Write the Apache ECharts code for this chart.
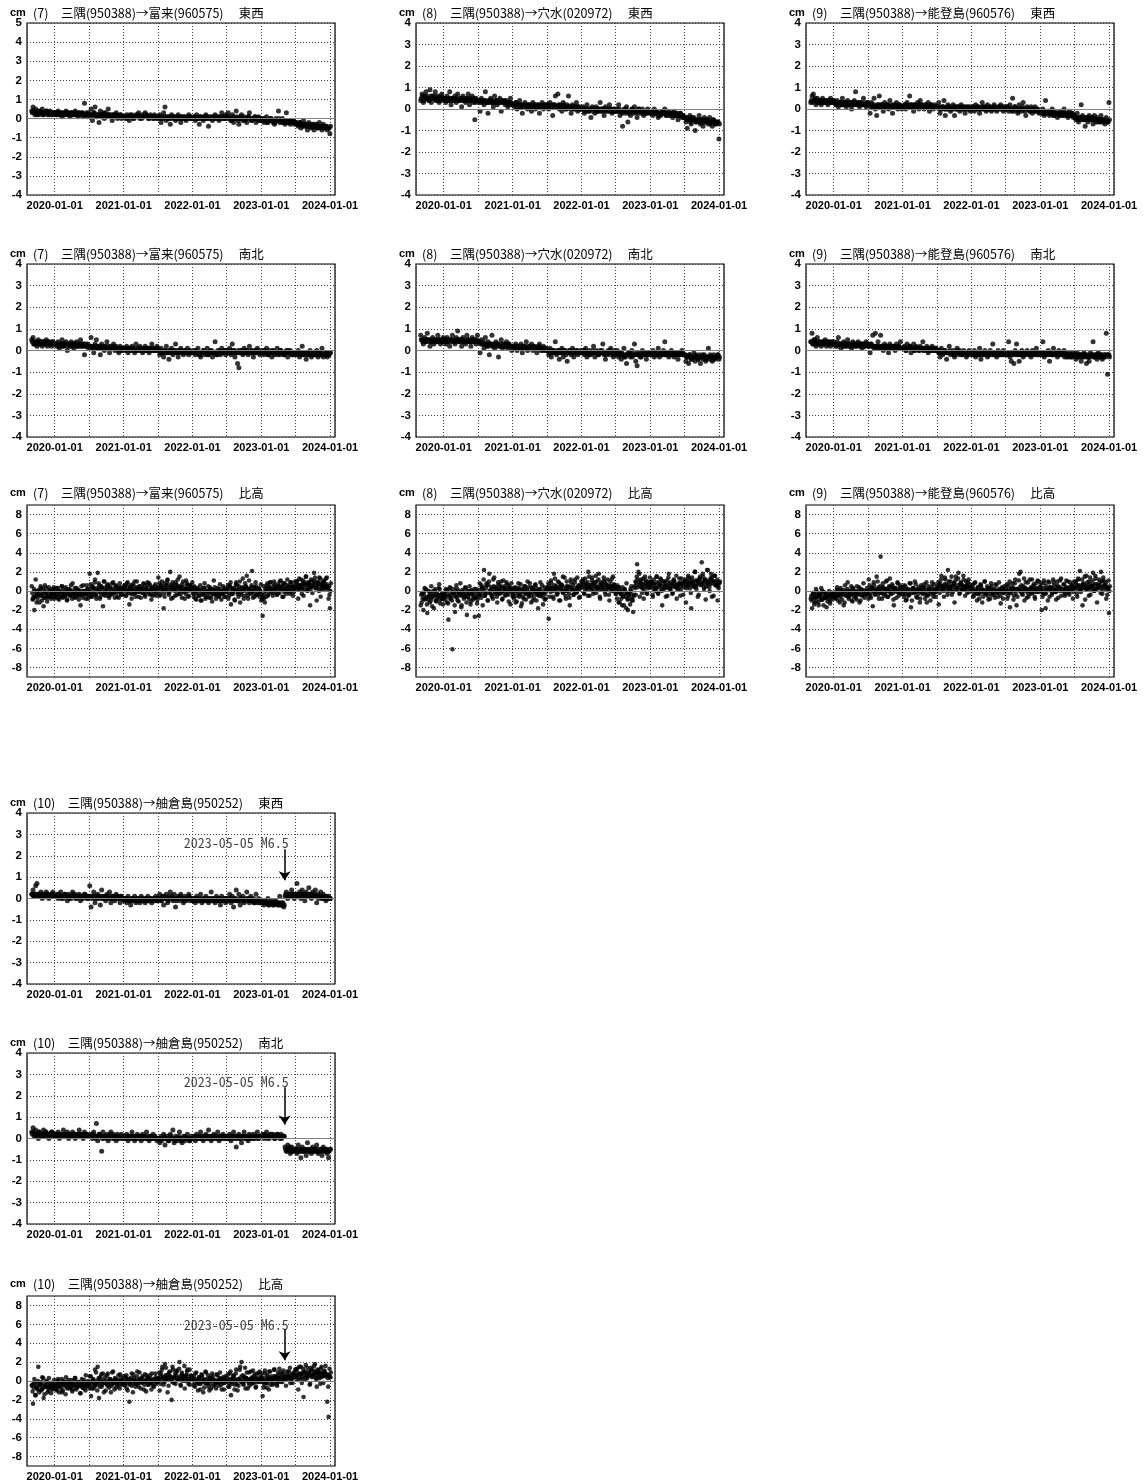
<!DOCTYPE html>
<html><head><meta charset="utf-8">
<script src="https://cdn.jsdelivr.net/npm/echarts@6/dist/echarts.min.js"></script>
<style>html,body{margin:0;padding:0;background:#fff}#c{width:1145px;height:1484px}</style>
</head><body><div id="c"></div>
<script>
// ---- time base: weekly sample sets (Sun / Wed / Fri) from 2019-09 to 2024-01 ----
const sampleStartA = [2019, 8, 1];
const sampleStartB = [2019, 8, 4];
const sampleStartC = [2019, 8, 6];
const sampleStepDays = 7;
const axisStart = [2019, 7, 7];
const axisEnd = [2024, 0, 27];
const xTickLabels = ['2020-01-01','2021-01-01','2022-01-01','2023-01-01','2024-01-01'];
const quakeDate = [2023, 4, 5];
const quakeText = '2023-05-05 M6.5';

// ---- series values in mm ----
const ew7_mm = [4,6,3,5,2,4,3,3,5,2,3,4,2,3,4,2,3,3,
3,2,4,2,3,1,3,2,4,3,2,1,3,2,3,4,2,1,3,2,3,1,8,2,1,3, 2,5,-1,3,6,1,2,-2,4,1,2,0,3,1,5,2,1,-1,2,1,3,0,1,2,0,1,
1,0,2,1,-1,1,2,0,1,2,1,3,0,1,2,1,3,2,1,0,2,1,0,2,1,0, 1,2,-2,0,3,6,-1,1,0,-3,2,1,0,-1,1,2,0,-2,1,0,1,-1,0,2,1,0,
0,1,-1,2,0,-3,1,0,-1,1,2,0,-4,1,0,-1,1,2,0,1,-1,0,3,1,0,2, 1,3,0,-1,2,-2,0,4,1,-3,0,2,-1,1,0,-2,1,3,0,-1,0,1,-2,0,1,-1,
-1,0,-2,-1,1,-2,-1,0,-1,-2,-3,0,-1,4,-2,-1,0,-2,-3,3,-2,-1,-3,-2,-1,-3, -2,-3,-4,-2,-5,-3,-1,-4,-3,-6,-2,-4,-5,-3,-6,-4,-3,-5,-2,-4,-6,-3,-5,-4,-6,-5,-8];
const ew7b_mm = [3,4,2,3,3,2,4,3,2,3,3,4,3,2,3,3,2,3,
2,3,3,2,3,2,2,3,3,2,3,2,3,2,2,3,2,3,2,2,3,2,2,3,2,2, 2,1,2,3,2,1,2,2,1,2,3,2,1,2,2,1,2,1,2,1,2,1,1,2,1,1,
1,1,0,1,2,1,1,0,1,1,2,1,1,0,1,1,2,1,0,1,1,1,0,1,1,0, 1,0,1,0,1,1,0,1,0,1,0,1,1,0,0,1,0,1,0,1,0,0,1,0,1,0,
0,1,0,0,1,0,1,0,0,1,0,1,0,0,1,0,0,1,0,0,1,0,1,0,0,1, 0,1,0,-1,0,1,0,0,-1,0,1,0,0,-1,0,0,1,0,-1,0,0,1,0,-1,0,0,
-1,-1,0,-1,-2,-1,-1,0,-1,-1,-2,-1,-1,0,-1,-2,-1,-1,-2,-1,-1,-2,-1,-1,-2,-2, -2,-3,-3,-2,-3,-4,-3,-3,-4,-3,-4,-3,-4,-4,-3,-4,-5,-4,-4,-5,-4,-4,-5,-4,-5,-5,-4];
const ew8_mm = [4,7,3,6,8,5,4,9,3,6,5,8,4,6,3,5,7,4,
5,3,6,4,8,2,5,4,6,3,7,4,5,1,6,4,3,5,7,2,4,6,3,-5,5,4, 3,-1,5,4,2,8,3,-2,4,5,3,1,6,4,2,3,5,-1,4,3,2,4,1,3,5,2,
2,1,3,0,2,4,1,-2,2,3,1,0,2,1,-1,3,2,0,1,2,-2,1,3,0,2,1, 2,0,3,1,-3,2,6,1,7,0,2,-1,3,1,0,2,6,1,-2,2,0,1,3,-1,1,0,
0,1,-2,0,2,-1,0,-4,1,0,-2,1,-1,0,3,-1,0,-3,1,0,-1,2,0,-2,-1,0, -1,0,2,-3,-1,-8,0,-2,1,-6,-1,-3,0,-2,1,-1,-4,0,-2,-1,0,-3,-1,-2,0,-1,
-2,-1,-3,0,-2,-1,-4,-2,-3,-1,-2,0,-3,-2,-1,-3,-2,-4,-1,-3,-2,-5,-3,-2,-4,-3, -4,-6,-9,-5,-3,-7,-5,-4,-10,-6,-5,-3,-7,-5,-8,-4,-6,-5,-7,-4,-6,-8,-5,-6,-7,-6,-14];
const ew8b_mm = [5,6,4,5,6,5,4,6,5,5,6,4,5,5,4,6,5,5,
5,4,5,4,5,4,5,5,4,5,4,4,5,4,5,4,4,5,4,5,4,4,5,3,4,4, 4,3,4,3,4,4,3,3,4,3,4,3,3,4,3,3,4,3,3,4,3,3,2,3,3,2,
2,2,3,2,1,2,2,1,2,2,1,2,1,2,1,1,2,1,2,1,1,2,1,1,2,1, 2,1,1,2,1,2,1,1,2,1,1,1,2,1,0,1,1,0,1,1,0,1,0,1,0,0,
0,0,-1,0,0,-1,0,0,-1,0,0,-1,0,-1,0,0,-1,0,-1,0,0,-1,0,-1,0,-1, -1,-1,0,-1,-2,-1,-1,0,-1,-2,-1,-1,0,-1,-1,-2,-1,0,-1,-1,-2,-1,-1,-2,-1,-1,
-2,-1,-2,-2,-1,-2,-3,-2,-2,-1,-2,-2,-3,-2,-2,-3,-2,-2,-3,-2,-3,-3,-2,-3,-3,-4, -4,-5,-4,-5,-6,-4,-5,-5,-6,-5,-5,-6,-5,-6,-5,-6,-6,-5,-6,-7,-6,-5,-6,-7,-6,-6,-7];
const ew9_mm = [3,6,7,4,2,5,3,4,2,5,3,4,3,2,4,5,3,4,
3,2,4,1,3,2,5,2,3,1,4,2,3,0,2,4,8,2,3,1,3,2,5,2,1,3, 2,-2,3,1,5,0,-3,2,6,1,2,-1,3,1,2,0,4,1,-2,2,1,3,0,2,1,0,
1,2,0,3,1,6,2,1,-1,2,1,3,0,4,2,1,0,2,1,3,-1,2,1,0,2,1, 1,3,-2,0,1,4,-3,0,2,1,-1,0,2,-3,1,0,1,-1,2,0,1,-2,0,1,0,-1,
0,1,-1,2,0,1,-2,0,3,1,0,-1,2,0,1,-1,0,2,1,-1,0,1,2,0,-1,1, 0,1,-1,2,0,5,-1,1,0,-2,2,0,-1,3,0,-3,1,0,-1,1,-2,0,1,-1,0,-2,
-1,-2,0,-3,4,-2,-1,-3,-2,0,-3,-1,-2,-4,-2,-1,-3,-2,0,-3,-2,-4,-1,-3,-2,-4, -3,-5,-2,-6,-4,2,-3,-5,-8,-4,-6,-3,-5,-4,-7,-3,-5,-4,-6,-5,-3,-6,-5,-7,-4,-6,3];
const ew9b_mm = [4,3,4,5,3,4,3,4,3,4,3,3,4,3,4,3,3,4,
3,2,3,2,3,3,2,3,2,3,2,2,3,2,3,2,3,2,2,3,2,2,3,2,2,3, 2,1,2,1,2,1,1,2,1,2,1,1,2,1,2,1,1,2,1,1,2,1,1,2,1,1,
1,2,1,2,1,1,2,1,2,1,1,2,1,1,2,1,1,2,1,1,1,2,1,1,1,1, 1,0,1,0,1,0,0,1,0,1,0,0,1,0,0,1,0,0,1,0,0,1,0,0,1,0,
0,1,0,0,1,0,0,1,0,0,1,0,0,1,0,0,1,0,0,0,1,0,0,1,0,0, 0,1,0,0,-1,0,1,0,0,-1,0,0,1,0,-1,0,0,0,-1,0,0,-1,0,0,-1,-1,
-1,-2,-1,-2,-2,-1,-2,-2,-1,-2,-3,-2,-2,-2,-3,-2,-2,-3,-2,-2,-3,-2,-3,-3,-2,-3, -4,-4,-5,-4,-5,-4,-5,-4,-5,-5,-4,-5,-5,-4,-5,-5,-6,-5,-5,-6,-5,-5,-6,-5,-6,-6,-5];
const ns7_mm = [5,6,3,4,2,5,3,4,2,4,3,5,2,4,3,2,4,3,
3,2,4,1,3,5,2,3,4,0,3,2,4,3,1,3,4,2,3,5,2,3,-2,3,2,1, 2,6,1,-1,3,5,1,2,-2,3,1,0,2,4,1,-1,2,1,3,0,2,1,-1,2,0,1,
1,0,2,-1,1,0,2,1,-1,3,0,1,2,0,-1,1,2,0,1,-1,1,3,0,1,0,2, 0,-2,1,-1,-3,0,2,-1,-4,0,1,-2,0,3,-1,-3,0,1,-1,-2,0,-1,1,-2,0,-1,
-1,0,-2,-1,1,-2,-3,-1,0,-2,-1,1,-2,0,-1,-3,-1,4,-2,0,-1,-2,1,-1,0,-2, 0,-1,1,-2,3,0,-3,-1,-6,-8,-1,0,-2,1,-1,0,-2,2,-1,0,-3,-1,0,1,-1,-2,
-1,0,-2,-1,1,-2,0,-1,-3,0,-2,-1,1,-1,-2,0,-1,-2,-1,0,-3,-1,0,-2,-1,-2, -1,-2,0,-3,-1,2,-2,-1,-4,-2,-1,0,-3,-2,-1,-2,0,-3,-1,-2,1,-3,-2,-1,-3,-2,-1];
const ns7b_mm = [4,3,4,3,4,3,3,4,3,4,3,3,4,3,3,4,3,3,
3,3,2,3,3,2,3,3,2,3,3,2,3,2,3,3,2,3,2,3,2,3,2,2,3,2, 2,2,1,2,1,2,1,1,2,1,1,2,1,1,2,1,1,1,2,1,1,0,1,1,0,1,
1,0,1,0,1,1,0,1,0,0,1,0,1,0,0,1,0,0,1,0,0,1,0,0,0,1, 0,-1,0,-1,0,-1,-1,0,-1,0,-1,-1,0,-1,0,-1,-1,0,-1,-1,0,-1,-1,0,-1,-1,
-1,-1,0,-1,-1,-2,-1,-1,0,-1,-1,-2,-1,-1,0,-1,-1,-1,-2,-1,0,-1,-1,-1,0,-1, 0,-1,-1,0,-1,0,-1,-1,0,-1,0,-1,-1,0,-1,0,-1,-1,0,-1,-1,0,-1,-1,0,-1,
-1,-1,0,-1,-1,-2,-1,-1,0,-1,-1,-1,-2,-1,0,-1,-1,-2,-1,-1,0,-1,-1,-2,-1,-1, -1,-2,-1,-1,-2,-1,-2,-1,-1,-2,-1,-2,-2,-1,-2,-1,-2,-2,-1,-2,-1,-2,-2,-1,-2,-2,-1];
const ns8_mm = [7,5,3,6,4,8,5,2,4,6,3,5,4,7,5,3,4,6,
5,3,6,4,2,5,7,4,3,6,9,4,5,2,6,4,3,7,5,4,2,6,4,5,3,7, 4,-1,5,3,1,6,2,4,-2,3,7,2,1,4,3,-3,2,5,1,3,2,4,1,3,2,0,
2,1,3,0,2,1,3,-1,2,1,4,0,2,1,3,0,2,1,-1,2,3,0,1,2,0,1, 0,-2,1,-3,0,-1,4,-2,0,-4,-1,1,-3,0,-2,-5,-1,0,-2,1,-3,-1,0,-2,-1,0,
-1,0,-2,1,-3,-1,0,-2,-1,2,-3,0,-1,-2,0,-1,3,-2,-4,-1,0,-2,1,-1,-3,0, -2,0,-3,-1,-4,-2,1,-3,-6,-2,-1,-3,0,-2,3,-5,-7,-2,-1,-3,0,-2,-1,-4,-2,-1,
-1,-2,0,-3,-1,-2,1,-3,-1,-2,0,4,-2,-1,-3,-2,0,-1,-3,-2,-1,-4,-2,-1,0,-2, -2,-5,-3,-6,-2,-4,-3,-1,-5,-3,-4,-2,-6,-3,-4,-2,-5,-3,1,-4,-3,-5,-2,-4,-3,-2,-4];
const ns8b_mm = [5,4,5,4,5,5,4,5,4,5,4,5,5,4,5,4,5,4,
4,5,4,5,5,4,5,4,5,4,5,5,4,5,4,4,5,4,5,4,4,5,4,4,5,4, 4,3,3,4,3,3,3,2,3,3,2,3,3,2,3,2,3,2,2,3,2,2,3,2,2,2,
2,1,2,1,2,1,1,2,1,2,1,1,2,1,1,2,1,1,1,2,1,1,0,1,1,0, 0,0,-1,0,-1,0,-1,-1,0,-1,0,-1,-1,0,-1,-1,0,-1,-1,0,-1,-1,0,-1,-1,-1,
-1,-1,0,-1,-1,-2,-1,-1,0,-1,-1,-1,-2,-1,-1,0,-1,-1,-2,-1,-1,0,-1,-1,-2,-1, -2,-1,-2,-2,-1,-2,-3,-2,-2,-1,-2,-2,-3,-2,-2,-1,-2,-2,-3,-2,-2,-1,-2,-2,-2,-1,
-1,-2,-1,-2,-1,-2,-2,-1,-2,-1,-2,-2,-1,-2,-1,-2,-2,-1,-2,-2,-1,-2,-2,-1,-2,-2, -2,-3,-3,-2,-3,-4,-3,-3,-2,-3,-4,-3,-3,-2,-3,-3,-4,-3,-3,-2,-3,-4,-3,-3,-3,-2,-3];
const ns9_mm = [4,8,3,5,2,6,3,4,2,4,3,5,2,4,3,2,4,3,
3,2,4,6,3,1,3,4,2,3,5,2,3,1,4,3,2,3,4,2,3,1,3,2,4,3, 2,-1,3,7,1,8,2,4,1,7,2,0,3,1,2,-1,3,2,1,2,0,3,1,2,4,1,
1,2,0,3,1,2,-1,1,3,0,2,1,0,2,1,4,0,1,2,-1,1,0,2,1,0,1, 0,-1,-3,1,-2,-1,0,-4,-1,2,-2,-1,0,-3,-1,1,-2,0,-1,-2,0,-1,-3,-1,0,-2,
-1,-2,0,-3,-1,-2,1,-4,-1,-2,0,-1,-3,-2,0,-1,3,-2,-1,-3,0,-2,-1,-2,0,-1, -2,-1,4,-3,-5,-1,-6,0,3,-2,-5,-1,0,-3,-2,-1,0,-2,-1,-3,0,-2,-1,1,-2,-1,
-2,-1,4,-3,-1,-2,0,-5,-1,-2,1,-2,-1,-3,0,-2,-1,-2,0,-1,-3,-2,-1,-2,-3,-1, -2,-4,-1,-3,-2,-5,-3,-1,-2,-6,-3,-5,-1,-2,4,-3,-2,-4,-1,-3,-2,-4,-3,-2,8,-11,-2];
const ns9b_mm = [4,3,5,3,4,3,4,3,3,4,3,4,3,3,4,3,3,4,
3,3,2,3,3,3,2,3,3,2,3,3,3,2,3,3,2,3,3,2,3,3,2,3,3,2, 2,3,2,2,2,1,2,2,1,2,2,1,2,2,1,2,1,2,1,2,1,1,2,1,1,1,
1,1,0,1,1,2,1,1,0,1,1,1,0,1,1,0,1,1,0,1,0,1,0,0,1,0, 0,-1,0,-1,-1,0,-1,-1,-1,0,-1,-1,-2,-1,-1,0,-1,-1,-2,-1,-1,-1,-2,-1,-1,-1,
-1,-2,-1,-2,-1,-2,-2,-1,-2,-1,-2,-2,-1,-2,-1,-2,-1,-2,-2,-1,-2,-1,-2,-1,-2,-1, -2,-1,-2,-1,-2,-2,-1,-2,-1,-2,-1,-2,-2,-1,-2,-1,-1,-2,-1,-2,-1,-1,-2,-1,-2,-1,
-1,-2,-1,-2,-1,-1,-2,-1,-2,-2,-1,-2,-1,-2,-2,-1,-2,-2,-3,-2,-2,-3,-2,-3,-2,-2, -2,-3,-2,-3,-2,-2,-3,-2,-3,-2,-3,-3,-2,-2,-3,-2,-3,-2,-2,-3,-2,-3,-2,-3,-2,-2,-3];
const ud7_mm = [5,-8,-20,12,-4,0,-12,3,-5,-16,6,-2,-7,4,-6,-3,2,-8,
-4,3,-8,0,-6,5,-2,-6,2,-9,-3,1,-5,8,-2,-7,3,-4,0,-15,-3,6,-1,-8,2,-5, 18,-6,5,-3,12,-8,19,2,-6,4,-16,10,-1,6,-5,3,-4,8,-2,-7,5,1,-7,4,-3,2,
3,-5,8,0,-14,6,2,-3,10,-1,4,-6,5,1,-2,7,-6,3,0,8,-4,2,-5,5,1,-2, 14,-5,6,3,-18,8,1,12,-4,20,6,-7,2,9,-4,4,15,-3,7,0,-8,11,2,-5,6,3,
-2,5,-8,0,3,-5,-10,2,-3,8,-6,0,-2,4,-7,1,11,-4,-1,3,-6,0,-3,5,-6,1, 2,-8,6,-14,3,0,-10,9,-3,5,-12,1,13,-5,4,16,-8,2,-3,21,0,-6,5,-4,3,-2,
-10,-26,-8,2,6,-5,4,9,0,-2,7,3,-4,5,10,1,-6,8,2,-3,6,0,9,4,-5,3, 6,10,-8,4,12,2,-5,9,15,0,7,-15,5,11,19,3,-10,8,14,-6,6,10,2,13,5,-8,-18];
const ud7b_mm = [-2,-6,0,-4,-8,1,-5,-3,2,-7,-1,-4,-6,0,-3,-5,1,-2,
-1,-4,0,-3,-6,1,-2,-5,-1,-3,2,-4,0,-2,-6,-1,-3,1,-5,-2,0,-4,-1,-3,2,-2, 2,-3,4,0,-5,3,-1,6,-2,1,-4,3,0,-2,5,-1,2,-3,1,4,-2,0,3,-1,-4,2,
2,-1,4,0,3,-3,1,5,-2,2,0,4,-1,1,3,-2,2,6,0,-1,3,1,-3,2,0,4, 3,0,5,1,-2,4,2,7,-1,3,1,6,0,2,5,-3,3,1,4,-1,2,6,0,3,1,2,
0,-3,2,-2,-5,1,-1,-4,3,-2,0,-6,-1,2,-3,0,-2,1,-4,-1,2,-3,0,-2,1,-1, 2,-2,4,0,-3,3,1,6,-1,2,-4,3,0,1,5,-2,2,-1,4,0,-3,3,1,-1,2,0,
-4,-6,-2,0,3,1,4,-1,2,5,0,3,-2,2,4,1,6,-1,3,0,5,2,-1,4,1,3, 4,7,2,6,3,8,5,1,7,4,9,2,6,5,10,3,7,4,8,2,6,9,4,7,3,5,0];
const ud7c_mm = [-9,2,-6,-12,0,-4,5,-10,-2,-7,3,-11,-5,1,-8,-3,4,-6,
-6,3,-9,-1,5,-7,-3,4,-10,0,-5,6,-8,-2,3,-6,1,-9,-4,5,-7,0,-3,6,-8,-1, 7,-6,3,9,-4,1,8,-8,5,-2,10,-5,2,7,-7,4,-3,9,-1,6,-6,3,8,-4,1,5,
6,-5,9,-2,4,-8,7,1,-6,10,-1,5,-7,3,8,-4,2,9,-3,6,-9,4,0,7,-5,3, 8,-4,10,1,-6,6,11,-2,4,-8,9,3,-5,7,12,0,5,-7,10,2,-3,8,-6,6,1,9,
-6,4,-9,1,-5,6,-10,-2,3,-8,0,5,-7,2,-11,-3,4,-8,1,-5,7,-9,-1,3,-6,0, 6,-5,9,-3,2,-9,7,1,-6,10,-2,4,-8,8,3,-5,11,-1,6,-7,4,9,-4,2,-6,7,
-8,5,-12,-6,8,-3,9,1,-5,10,3,-4,7,-2,11,5,-6,8,0,12,4,-3,9,6,-1,10, 10,2,13,6,-3,11,7,15,1,9,4,12,-2,8,14,5,10,0,13,7,3,11,6,14,2,-4,8];
const ud8_mm = [-15,-2,-20,3,-8,-23,0,-12,5,-6,-18,2,-10,-4,7,-9,-3,-14,
-5,2,-12,-30,4,-8,-61,-2,-22,6,-10,-3,8,-15,-1,-6,3,-25,-4,5,-11,0,-7,-27,2,-9, -26,-4,6,-15,22,-2,8,-10,18,1,-6,12,-3,4,-12,7,0,10,-8,3,-5,9,-1,5,-14,2,
-5,3,-12,0,8,-4,-16,2,-8,5,-2,10,-6,-1,4,-10,0,7,-3,-18,2,-5,6,-2,-9,1, 4,-29,1,8,-6,18,2,-4,10,-10,3,6,-2,14,-8,0,5,-15,9,1,-4,12,-1,3,-7,6,
5,12,-3,8,2,20,-5,6,14,0,9,-2,4,18,-8,7,1,11,-4,6,3,-10,5,13,0,4, -3,6,-12,0,-8,4,-15,-2,8,-20,-5,2,-10,-22,5,-4,28,20,-6,12,3,-8,15,-2,9,6,
4,10,-6,8,0,15,-3,6,12,-15,2,9,5,-5,18,3,7,-2,11,4,-8,6,13,1,8,-4, 10,-12,6,14,3,-18,9,5,20,2,-6,12,7,30,15,4,-9,22,8,0,18,11,-5,16,6,-10,9];
const ud8b_mm = [-4,-8,-2,-6,1,-9,-5,-3,-7,0,-5,-10,-3,-6,2,-4,-8,-5,
-3,-6,0,-4,-8,-1,-5,2,-3,-7,0,-2,-5,1,-4,-6,-2,0,-8,-3,1,-4,-2,-6,0,-3, 1,-3,4,0,-5,3,-2,6,0,-4,2,5,-1,3,-3,1,4,-2,0,5,-1,2,-4,3,0,-2,
-2,1,-5,-1,3,-4,0,-6,2,-3,-1,4,-2,-5,1,-3,0,3,-4,-1,2,-2,-6,0,-3,1, 2,5,-1,3,0,6,2,-2,4,1,7,-1,3,0,5,2,-3,4,1,6,0,3,-1,5,2,4,
4,7,2,5,9,3,6,1,8,4,5,10,3,6,2,7,4,9,1,5,3,6,0,4,7,3, 2,-1,4,-3,0,-5,1,-6,-2,-8,-3,0,-7,-4,3,8,12,6,10,4,7,2,9,5,3,6,
5,8,2,6,3,9,4,7,1,5,10,3,6,4,8,2,7,5,9,4,6,3,8,5,7,4, 7,10,5,9,12,6,8,4,11,7,9,13,6,10,8,12,5,9,11,7,14,8,10,6,9,5,8];
const ud8c_mm = [-12,-3,-9,2,-14,-6,-1,-10,-16,-4,0,-11,-7,3,-13,-5,-8,-2,
-9,1,-13,-5,3,-10,-2,-15,-6,2,-11,-4,-17,-1,-8,4,-12,-6,0,-14,-3,-9,2,-7,-13,-5, 8,-7,3,12,-5,6,-10,10,-2,4,-8,14,0,-6,9,-3,5,-9,11,2,-4,7,-11,3,8,-6,
-8,4,-11,2,-6,7,-13,-1,5,-9,1,-4,8,-12,3,-7,6,-10,0,-5,9,-3,-14,4,-8,2, 8,-6,11,3,-8,13,5,-3,9,-10,6,15,0,-5,10,4,-7,12,2,-4,9,-2,14,6,-6,10,
10,-2,13,6,-5,15,3,11,-3,8,16,1,12,-6,9,4,14,-1,7,12,-4,10,2,15,6,-3, -8,4,-12,-3,-15,-6,2,-18,-9,-2,-14,5,-10,-5,10,15,4,18,8,-2,13,6,11,-3,9,14,
9,-4,12,3,15,-2,8,13,0,10,5,-6,11,14,2,9,-3,12,6,16,1,8,-5,13,7,10, 12,3,16,8,-2,14,10,20,5,11,-4,15,7,18,2,12,9,22,4,13,-6,10,16,6,12,3,10];
const ud9_mm = [-8,-18,-3,-12,2,-6,-15,-4,3,-9,-1,-7,-17,-5,0,-10,-3,-6,
-2,-8,4,-5,-12,1,-3,-15,6,-4,9,-6,0,-10,3,-2,-7,5,-3,-12,2,-5,8,-1,-4,0, 12,-5,3,-16,6,-1,15,-4,2,36,-8,4,-2,10,-6,0,13,-3,5,-15,1,-7,8,-2,4,-1,
-3,6,-10,1,-5,8,-17,2,-2,10,-6,0,4,-8,3,-1,7,-4,-12,5,0,-3,9,-6,2,-1, 5,-14,8,16,2,-6,12,4,22,0,10,-4,6,-12,15,3,19,-2,8,1,12,-5,5,9,-1,4,
2,-6,8,0,-10,4,-3,6,-12,1,10,-2,-5,3,-8,5,0,-4,7,-1,-6,2,-13,4,-2,0, 3,-8,6,-17,2,8,-5,12,-15,1,18,20,-3,5,-10,9,0,-6,12,4,-2,7,-8,3,11,-1,
5,-20,-3,8,-18,2,10,-6,4,-2,9,0,-9,6,3,11,-5,1,7,-3,4,10,-4,2,6,-1, 4,8,-6,12,21,2,-15,6,-9,16,3,10,-4,7,19,0,13,-12,5,9,20,-3,11,6,-8,3,-23];
const ud9b_mm = [-5,-8,-3,-7,-10,-4,-6,-2,-9,-5,-7,-3,-6,-8,-4,-6,-2,-5,
-2,-5,0,-3,-6,-1,-4,1,-3,-5,0,-2,-4,2,-3,-1,-5,0,-2,-4,1,-3,-1,-2,0,-3, 1,-2,3,0,-3,2,-1,4,0,-2,3,1,-3,2,0,5,-1,2,-2,1,3,-1,0,2,-3,1,
0,-3,2,-1,-4,1,-2,3,0,-1,2,-3,1,0,-2,3,-1,1,-4,0,2,-1,1,-2,0,2, 3,6,1,5,2,7,4,0,6,3,5,1,8,4,2,6,3,7,1,4,5,2,6,3,4,1,
1,-2,2,0,-3,1,-1,3,0,-2,1,-1,2,0,-3,1,-1,2,0,-2,1,0,-1,2,-2,0, 0,-2,2,-1,1,3,0,-3,2,1,4,-1,2,0,3,1,-2,2,0,3,1,-1,2,0,1,2,
2,-1,3,0,-2,2,1,4,0,3,1,-1,2,4,0,3,1,2,-1,3,2,0,4,1,2,3, 3,6,2,5,1,4,7,3,5,2,6,4,1,5,3,7,2,4,6,3,5,1,4,6,2,3,0];
const ud9c_mm = [-10,-2,-14,-6,-1,-12,-4,-9,0,-15,-7,-3,-11,-5,-13,-2,-8,-6,
-7,1,-10,-4,3,-9,-1,-12,-5,2,-8,-3,5,-11,-6,0,-9,-2,4,-10,-4,1,-7,-3,3,-8, 6,-7,3,9,-4,1,10,-8,5,-2,8,-5,2,11,-6,4,-3,7,-9,3,0,9,-5,6,-2,4,
-6,5,-9,2,-4,8,-10,3,-1,7,-7,1,-12,6,-3,4,-8,9,-5,2,-10,5,-2,7,-6,1, 9,-2,12,5,0,14,7,-4,10,3,15,-1,8,11,2,13,-3,9,6,16,1,10,-2,12,7,4,
6,-5,9,-2,4,-8,7,1,-6,10,-3,5,-9,3,8,-4,1,-7,6,-1,9,-5,2,-8,5,0, 7,-5,10,-2,4,-9,8,2,-6,11,0,6,-4,13,3,-7,9,1,-3,12,5,-6,8,-1,10,4,
8,-6,11,-3,5,-10,9,2,-4,12,6,-1,10,-7,4,13,0,7,-5,11,3,-2,9,6,-8,10, 10,-3,13,6,-1,12,8,15,2,9,-5,14,5,11,0,16,7,3,12,-2,10,14,6,9,-4,11,5];
const ew10_mm = [2,4,1,6,7,2,1,3,0,2,1,3,2,0,1,2,3,1,
1,2,0,1,3,1,0,2,1,-1,2,1,0,3,1,2,0,1,2,-1,1,0,2,1,0,1, 6,-4,1,3,-2,0,2,1,-3,4,0,1,-1,2,0,3,-2,1,0,-1,2,1,0,-2,1,0,
-1,0,-2,1,-1,-3,0,-1,1,-2,0,-1,-2,1,0,-1,-2,0,1,-1,0,-2,-1,0,1,-1, 0,2,-1,1,-3,0,2,-2,1,3,0,-1,2,-4,0,1,-1,2,0,-2,1,-1,0,2,-1,0,
-1,0,-2,1,-1,0,2,-2,-1,0,1,-1,-2,0,3,-1,0,-2,1,-1,0,-3,1,-1,0,-2, 0,-1,2,-2,1,-4,0,4,-1,2,-3,0,1,-2,-1,3,0,-2,1,-1,0,-2,2,-1,0,-2,
-1,-2,-3,-1,-2,0,-3,-2,-1,-3,-2,-1,-2,-3,1,-2,-3,-4,1,3,0,2,1,4,2,0, 2,7,1,3,0,4,2,-1,3,1,5,2,0,3,1,4,-2,2,1,3,0,2,1,-1,0,1,0];
const ew10b_mm = [2,1,2,2,1,2,1,2,1,1,2,1,2,1,1,2,1,1,
1,1,2,1,0,1,1,2,1,1,0,1,1,2,1,0,1,1,1,0,1,1,2,1,0,1, 1,0,1,0,1,1,0,1,0,1,0,0,1,0,1,0,0,1,0,0,1,0,0,1,0,0,
0,-1,0,-1,-1,0,-1,0,-1,-1,0,-1,0,-1,-1,0,-1,0,-1,-1,0,-1,0,-1,0,-1, 0,0,-1,0,1,0,0,-1,0,0,1,0,0,-1,0,0,1,0,0,-1,0,0,0,1,0,0,
-1,0,-1,0,-1,-1,0,-1,0,-1,-1,0,-1,0,-1,0,-1,-1,0,-1,0,-1,-1,0,-1,0, -1,0,-1,0,-1,-1,0,-1,-1,0,-1,0,-1,-1,0,-1,-1,0,-1,-1,-2,-1,-1,-2,-1,-2,
-2,-2,-1,-2,-2,-3,-2,-2,-2,-3,-2,-2,-3,-2,-3,-3,-2,-3,2,1,2,1,2,1,2,1, 2,1,2,1,2,1,2,1,2,1,1,2,1,1,2,1,1,0,1,1,0,1,0,1,0,0,0];
const ns10_mm = [3,5,1,4,2,0,3,1,2,4,1,3,2,0,2,3,1,2,
2,1,3,0,2,1,4,2,1,3,0,2,1,3,2,0,1,2,4,1,2,0,3,1,2,1, 1,2,0,3,1,7,-1,2,1,-6,3,0,1,2,-1,1,3,0,2,1,-1,2,0,1,2,0,
1,0,2,-1,1,0,3,1,-1,0,2,1,0,-1,2,0,1,3,0,-1,1,0,2,1,0,-1, 0,-2,1,0,2,-3,0,1,-1,2,0,4,-2,1,0,-1,3,0,-2,1,-1,0,2,0,-1,1,
0,1,-1,2,0,1,3,0,-1,1,2,0,4,1,-1,0,2,1,0,3,-1,1,0,2,1,0, 1,0,2,-1,1,3,0,-4,1,2,0,-2,1,3,0,1,-1,2,0,1,2,0,1,3,0,1,
1,2,0,1,3,1,0,2,1,2,0,1,2,1,0,2,1,1,-4,-6,-3,-5,-7,-4,-6,-5, -5,-7,-3,-6,-9,-4,-6,-5,-8,-2,-6,-5,-7,-4,-6,-5,-3,-7,-6,-5,-8,-4,-6,-5,-7,-9,-5];
const ns10b_mm = [2,3,2,1,2,3,2,2,1,2,3,2,1,2,2,3,2,1,
2,1,2,2,1,2,1,2,2,1,2,1,1,2,2,1,2,1,2,1,1,2,1,2,1,1, 1,1,2,1,0,1,1,2,1,0,1,1,1,0,1,2,1,1,0,1,1,0,1,1,0,1,
1,0,1,0,1,1,0,1,0,0,1,0,1,1,0,1,0,0,1,0,1,0,0,1,0,0, 0,0,-1,0,1,0,0,-1,0,1,0,0,-1,0,0,1,0,-1,0,0,1,0,0,-1,0,0,
0,1,0,1,0,0,1,0,1,1,0,1,0,0,1,0,1,0,1,0,0,1,0,1,0,1, 1,0,1,0,1,1,0,1,0,1,0,1,1,0,1,0,1,1,0,1,0,1,1,0,1,1,
1,1,2,1,0,1,1,2,1,1,0,1,2,1,1,0,1,1,-5,-6,-5,-4,-6,-5,-6,-5, -5,-6,-5,-6,-5,-6,-6,-5,-6,-5,-6,-6,-5,-6,-5,-6,-5,-6,-6,-5,-6,-5,-6,-5,-6,-6,-5];
const ud10_mm = [-5,-24,2,-15,-8,15,-3,-10,4,-18,-6,0,-12,3,-7,-2,-9,1,
-4,-10,2,-6,-3,-12,0,-5,4,-8,-2,-6,1,-9,-4,3,-7,-1,-5,-13,2,-3,-8,6,-2,-5, 5,-16,0,-8,12,-3,15,-18,4,-6,8,-1,-10,6,-4,2,-12,9,-2,3,-7,1,-5,7,0,-3,
-2,4,-8,1,-22,3,-5,7,0,-3,10,-6,2,-1,5,-9,0,6,-4,3,-2,8,-5,1,4,-1, 3,-10,8,15,-4,18,2,-12,9,5,-20,12,4,-3,10,1,20,-5,7,2,-8,6,12,0,-4,5,
2,-5,8,0,-10,4,-3,6,-12,1,9,-2,-6,3,-8,5,0,-4,7,-1,-5,2,-9,4,-2,0, 3,-6,8,-15,2,6,-4,12,-10,1,15,20,-3,5,-8,9,0,-5,10,4,-2,7,-6,3,8,-1,
4,-16,-3,8,-7,2,10,-4,5,-2,12,3,-5,6,2,9,-1,4,7,3,5,10,-2,6,8,4, 6,13,-9,8,15,2,-17,10,4,14,7,-3,12,5,16,9,-6,11,3,13,8,-2,10,6,-22,-38,4];
const ud10b_mm = [-4,-7,-2,-6,-9,-3,-5,-1,-8,-4,-6,-2,-7,-5,-3,-8,-4,-6,
-3,-6,-2,-5,-8,-3,-4,-1,-6,-4,-2,-7,-3,-5,0,-4,-6,-2,-5,-3,-7,-1,-4,-5,-2,-4, -1,-4,1,-2,-5,0,-3,2,-1,-4,1,-2,0,-5,-1,2,-3,0,-2,1,-4,-1,0,-3,1,-1,
0,-3,2,-1,-4,1,-2,3,0,-3,1,-1,2,-2,0,-4,1,-1,3,0,-2,1,-3,0,2,-1, 2,5,1,4,0,6,3,1,5,2,-1,4,3,6,1,3,5,2,0,4,3,6,2,1,4,2,
1,-2,2,0,-3,1,-1,3,0,-2,2,-1,0,-3,1,2,-1,0,-2,1,3,-1,0,-2,1,0, 0,-2,2,-1,1,3,0,-3,2,1,4,-1,2,0,3,1,-2,2,0,3,1,-1,2,0,1,2,
2,-1,3,1,-2,4,2,0,3,1,5,2,-1,3,4,1,2,3,4,2,5,3,1,4,3,5, 5,8,3,7,4,9,6,2,8,5,7,10,4,6,8,3,7,5,9,4,6,8,5,7,3,6,4];
const ud10c_mm = [-11,-2,-15,-7,0,-12,-4,-9,3,-14,-6,-1,-10,-5,-13,-3,-8,-6,
-9,0,-12,-5,2,-10,-3,-14,-6,1,-8,-2,-11,-4,3,-9,-6,-1,-13,-3,-7,1,-10,-5,0,-8, 5,-8,2,-4,9,-10,3,-6,7,-1,-12,4,-3,8,-7,1,-5,10,-9,2,-2,6,-8,3,-4,5,
-5,6,-10,2,-3,8,-12,1,-6,5,-2,9,-8,3,-1,7,-11,4,-4,6,-9,2,-6,8,-3,0, 9,-3,12,4,-1,14,6,-5,10,2,15,-2,8,11,1,13,-4,9,5,16,0,10,-3,12,6,3,
5,-6,9,-2,4,-9,7,0,-7,10,-3,6,-10,3,8,-5,1,-8,6,-1,9,-4,2,-9,5,0, 7,-6,10,-3,5,-9,8,1,-5,12,-1,6,-4,14,3,-8,9,2,-3,11,5,-7,8,-1,10,4,
8,-7,11,-2,6,-9,10,1,-4,12,5,-3,9,13,-1,7,11,2,-5,10,6,14,3,-2,9,12, 12,1,15,7,-2,13,9,17,3,10,-4,14,6,11,18,2,12,8,-3,15,5,11,16,7,-6,13,9];

// annotation positions (cm) for the M6.5 arrow and label
const quakeLabelY = {ew10: 2.6, ns10: 2.65, ud10: 6.0};
const quakeArrowY = {ew10: [2.3, 0.85], ns10: [2.4, 0.65], ud10: [5.5, 2.2]};

const panels = [
  {id:'ew7', title:'(7)　三隅(950388)→富来(960575)　 東西', a:ew7_mm, b:ew7b_mm, y:[-4,5], c:0, r:0},
  {id:'ew8', title:'(8)　三隅(950388)→穴水(020972)　 東西', a:ew8_mm, b:ew8b_mm, y:[-4,4], c:1, r:0},
  {id:'ew9', title:'(9)　三隅(950388)→能登島(960576)　 東西', a:ew9_mm, b:ew9b_mm, y:[-4,4], c:2, r:0},
  {id:'ns7', title:'(7)　三隅(950388)→富来(960575)　 南北', a:ns7_mm, b:ns7b_mm, y:[-4,4], c:0, r:1},
  {id:'ns8', title:'(8)　三隅(950388)→穴水(020972)　 南北', a:ns8_mm, b:ns8b_mm, y:[-4,4], c:1, r:1},
  {id:'ns9', title:'(9)　三隅(950388)→能登島(960576)　 南北', a:ns9_mm, b:ns9b_mm, y:[-4,4], c:2, r:1},
  {id:'ud7', title:'(7)　三隅(950388)→富来(960575)　 比高', a:ud7_mm, b:ud7b_mm, cc:ud7c_mm, y:[-9,9], c:0, r:2, ud:true},
  {id:'ud8', title:'(8)　三隅(950388)→穴水(020972)　 比高', a:ud8_mm, b:ud8b_mm, cc:ud8c_mm, y:[-9,9], c:1, r:2, ud:true},
  {id:'ud9', title:'(9)　三隅(950388)→能登島(960576)　 比高', a:ud9_mm, b:ud9b_mm, cc:ud9c_mm, y:[-9,9], c:2, r:2, ud:true},
  {id:'ew10', title:'(10)　三隅(950388)→舳倉島(950252)　 東西', a:ew10_mm, b:ew10b_mm, y:[-4,4], c:0, r:3},
  {id:'ns10', title:'(10)　三隅(950388)→舳倉島(950252)　 南北', a:ns10_mm, b:ns10b_mm, y:[-4,4], c:0, r:4},
  {id:'ud10', title:'(10)　三隅(950388)→舳倉島(950252)　 比高', a:ud10_mm, b:ud10b_mm, cc:ud10c_mm, y:[-9,9], c:0, r:5, ud:true}
];

// ---- layout ----
const colLeft = [27, 416, 806];
const gridW = 308;
const rowTop = [23, 264, 505, 813, 1053, 1296];
const rowH = [172, 173, 172, 171, 171, 170];
const numFont = "'Liberation Sans','Arial',sans-serif";
const cjkFont = "'Noto Sans CJK JP','Noto Sans',sans-serif";
const gridColor = '#444';

function makeDates(start, n) {
  const out = [];
  for (let k = 0; k < n; k++) out.push(new Date(start[0], start[1], start[2] + sampleStepDays * k).getTime());
  return out;
}
const datesA = makeDates(sampleStartA, ew7_mm.length);
const datesB = makeDates(sampleStartB, ew7b_mm.length);
const datesC = makeDates(sampleStartC, ud7c_mm.length);
const tMin = new Date(...axisStart).getTime();
const tMax = new Date(...axisEnd).getTime();
const tQuake = new Date(...quakeDate).getTime();
const HALF_YEAR = 182.6 * 86400000;

function xLabel(val) {
  const d = new Date(val);
  const s = d.getFullYear() + '-' + String(d.getMonth() + 1).padStart(2, '0') + '-' + String(d.getDate()).padStart(2, '0');
  return xTickLabels.indexOf(s) >= 0 ? s : '';
}

const option = {animation:false, backgroundColor:'#fff', title:[], grid:[], xAxis:[], yAxis:[], series:[]};

panels.forEach((p, i) => {
  const left = colLeft[p.c], top = rowTop[p.r], h = rowH[p.r];
  const tOff = p.ud ? 12 : 10;
  option.title.push({text:p.title, left:left + 6, top:top - tOff - 8, padding:0,
    textStyle:{fontFamily:cjkFont, fontSize:12.5, fontWeight:'normal', color:'#000', lineHeight:16}});
  option.title.push({text:'cm', left:left - 17, top:top - tOff - 7, padding:0,
    textStyle:{fontFamily:numFont, fontSize:11, fontWeight:'bold', color:'#000', lineHeight:14}});
  option.grid.push({left:left, top:top, width:gridW, height:h, show:true, borderColor:'#000', borderWidth:1.2, backgroundColor:'rgba(0,0,0,0)'});
  option.xAxis.push({type:'time', gridIndex:i, min:tMin, max:tMax, minInterval:HALF_YEAR, maxInterval:HALF_YEAR,
    axisLine:{show:false}, axisTick:{show:false},
    axisLabel:{formatter:xLabel, fontFamily:numFont, fontSize:11, fontWeight:'bold', color:'#000', margin:5, hideOverlap:false, showMinLabel:true, showMaxLabel:true},
    splitLine:{show:true, lineStyle:{type:[1,2], color:gridColor, width:1}}});
  option.yAxis.push({type:'value', gridIndex:i, min:p.y[0], max:p.y[1], interval:1,
    axisLine:{show:false}, axisTick:{show:false},
    axisLabel:{formatter: p.ud ? (v => (v % 2 === 0 ? String(v) : '')) : (v => String(v)),
      fontFamily:numFont, fontSize:11.5, fontWeight:'bold', color:'#000', margin:5},
    splitLine:{show:true, lineStyle:{type:[1,2], color: p.ud ? ['rgba(0,0,0,0)', gridColor] : gridColor, width:1}}});
  let pts = p.a.map((mm, k) => [datesA[k], mm / 10]).concat(p.b.map((mm, k) => [datesB[k], mm / 10]));
  if (p.cc) pts = pts.concat(p.cc.map((mm, k) => [datesC[k], mm / 10]));
  option.series.push({type:'scatter', xAxisIndex:i, yAxisIndex:i, silent:true,
    data: pts, symbolSize: p.ud ? 4.6 : 5, itemStyle:{color:'#000'},
    markLine:{silent:true, symbol:'none', label:{show:false}, animation:false,
      lineStyle:{color:'#808080', type:'solid', width:1}, data:[{yAxis:0}]}});
  if (quakeLabelY[p.id] !== undefined) {
    const ay = quakeArrowY[p.id];
    option.series.push({type:'scatter', xAxisIndex:i, yAxisIndex:i, silent:true,
      data:[[tQuake, quakeLabelY[p.id]]], symbolSize:0, itemStyle:{color:'rgba(0,0,0,0)'},
      label:{show:true, formatter:quakeText, position:'inside', align:'right', verticalAlign:'middle', offset:[4,0],
        fontFamily:"'Noto Sans Mono CJK JP','DejaVu Sans Mono',monospace", fontSize:14, color:'#111'},
      markLine:{silent:true, symbol:['none','arrow'], symbolSize:9, label:{show:false}, animation:false,
        lineStyle:{color:'#000', type:'solid', width:1.5},
        data:[[{coord:[tQuake, ay[0]]}, {coord:[tQuake, ay[1]]}]]}});
  }
});

const chart = echarts.init(document.getElementById('c'), null, {renderer:'canvas'});
chart.setOption(option);
</script>
</body></html>
